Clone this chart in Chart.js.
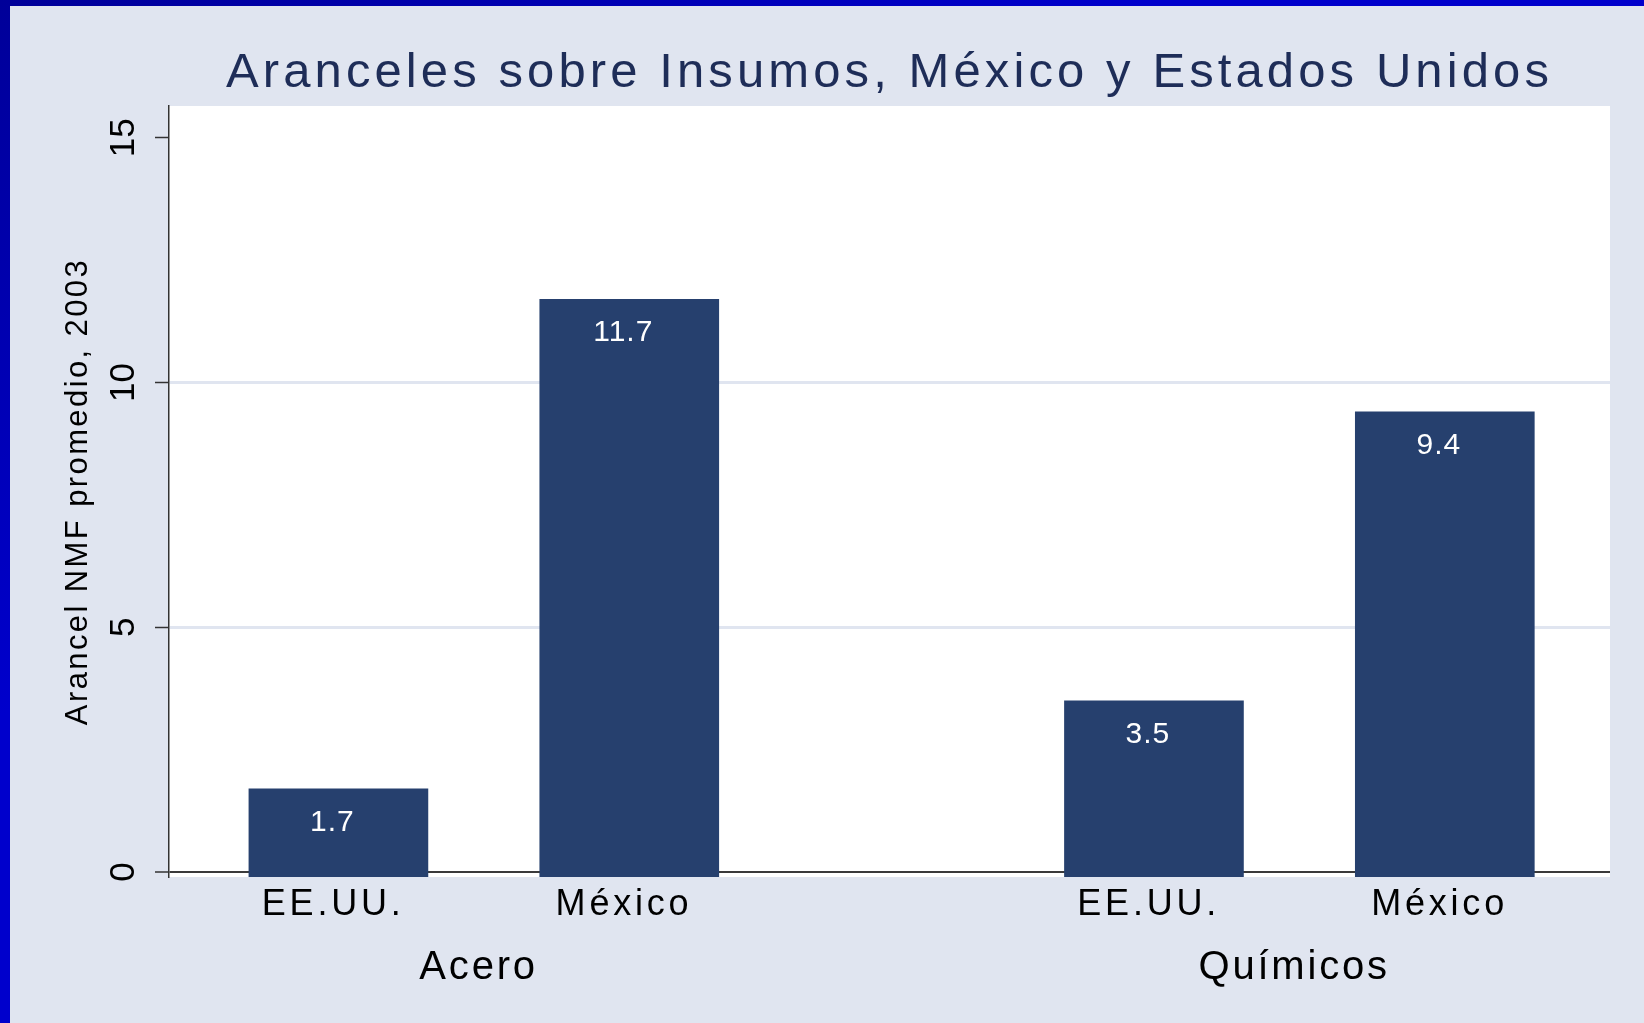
<!DOCTYPE html>
<html>
<head>
<meta charset="utf-8">
<script src="https://cdn.jsdelivr.net/npm/chart.js@4/dist/chart.umd.min.js"></script>
<style>
  html, body { margin: 0; padding: 0; }
  body {
    width: 1644px; height: 1023px; overflow: hidden; position: relative;
    background: linear-gradient(to bottom right, #000099 0%, #0000cc 35%);
  }
  #chart { position: absolute; left: 10px; top: 6px; background: #e0e5f0; }
</style>
</head>
<body>
<canvas id="chart" width="1634" height="1017"></canvas>
<script>
// ================= Data =================
const groups = ['Acero', 'Químicos'];
const countries = ['EE.UU.', 'México'];
const acero = [1.7, 11.7];
const quimicos = [3.5, 9.4];
const yTicks = [0, 5, 10, 15];
const titleText = 'Aranceles sobre Insumos, México y Estados Unidos';
const yTitle = 'Arancel NMF promedio, 2003';

// ================= Layout helpers =================
const FONT = '"Liberation Sans", Arial, sans-serif';
const GROUP_STEP = 2.804;   // distance between groups, in bar spacings
const X_MIN = -0.5825;
const X_MAX = GROUP_STEP + 1 + 0.568;
const Y_MIN = -0.1;
const Y_MAX = 15.65;
const LABEL_NUDGE = -0.018; // stata puts the category text a bit left of centre

const values = [acero, quimicos];
const barPos = (g, m) => g * GROUP_STEP + m;

const points = [];
const barTicks = [];
values.forEach((vals, g) => {
    vals.forEach((v, m) => {
        points.push({ x: barPos(g, m), y: v });
        barTicks.push({ value: barPos(g, m) + LABEL_NUDGE, label: countries[m] });
    });
});
const groupTicks = groups.map((name, g) => ({ value: barPos(g, 0.5) + LABEL_NUDGE, label: name }));

// Stata style spaced-out letters, keyed by font size
const spacing = { '49': '4.1px', '36': '3.8px', '40': '2.8px', '35': '0px', '31': '2.4px', '30': '1px' };
const canvas = document.getElementById('chart');
const ctx = canvas.getContext('2d');
const fontProp = Object.getOwnPropertyDescriptor(CanvasRenderingContext2D.prototype, 'font');
Object.defineProperty(ctx, 'font', {
    get() { return fontProp.get.call(this); },
    set(v) {
        fontProp.set.call(this, v);
        const m = /(\d+(?:\.\d+)?)px/.exec(v);
        this.letterSpacing = (m && spacing[m[1]]) || '0px';
    }
});

// white plot region
const plotBackground = {
    id: 'plotBackground',
    beforeDraw(chart) {
        const a = chart.chartArea;
        chart.ctx.save();
        chart.ctx.fillStyle = '#ffffff';
        chart.ctx.fillRect(a.left, a.top, a.right - a.left, a.bottom - a.top);
        chart.ctx.restore();
    }
};

// value labels inside the bars
const barLabels = {
    id: 'barLabels',
    afterDatasetsDraw(chart) {
        const c = chart.ctx;
        const meta = chart.getDatasetMeta(0);
        c.save();
        c.font = '30px ' + FONT;
        c.fillStyle = '#ffffff';
        c.textAlign = 'center';
        c.textBaseline = 'middle';
        meta.data.forEach((bar, i) => {
            c.fillText(points[i].y.toFixed(1), bar.x - 6, bar.y + 33.5);
        });
        c.restore();
    }
};

new Chart(ctx, {
    type: 'bar',
    data: {
        datasets: [{
            data: points,
            backgroundColor: '#26406e',
            borderWidth: 0,
            barThickness: 179,
            base: Y_MIN
        }]
    },
    options: {
        responsive: false,
        animation: false,
        devicePixelRatio: 1,
        layout: { padding: { top: 0, left: 0, right: 34, bottom: 33 } },
        plugins: {
            legend: { display: false },
            tooltip: { enabled: false },
            title: {
                display: true,
                text: titleText,
                color: '#1e2d58',
                fullSize: false,
                font: { family: FONT, size: 49, weight: 'normal' },
                padding: { top: 38.4, bottom: 2.8 }
            }
        },
        scales: {
            x: {
                type: 'linear',
                position: 'bottom',
                weight: 0,
                min: X_MIN,
                max: X_MAX,
                offset: false,
                grid: { display: false, drawTicks: false, offset: false },
                border: { display: false },
                afterBuildTicks: s => { s.ticks = barTicks.map(t => ({ value: t.value })); },
                afterFit: s => { s.height = 49.6; },
                ticks: {
                    autoSkip: false,
                    maxRotation: 0,
                    padding: 6.4,
                    color: '#000000',
                    font: { family: FONT, size: 36 },
                    callback: (v, i) => barTicks[i].label
                }
            },
            x2: {
                type: 'linear',
                position: 'bottom',
                weight: 1,
                min: X_MIN,
                max: X_MAX,
                offset: false,
                grid: { display: false, drawTicks: false, offset: false },
                border: { display: false },
                afterBuildTicks: s => { s.ticks = groupTicks.map(t => ({ value: t.value })); },
                afterFit: s => { s.height = 63.4; },
                ticks: {
                    autoSkip: false,
                    maxRotation: 0,
                    padding: 17.4,
                    color: '#000000',
                    font: { family: FONT, size: 40 },
                    callback: (v, i) => groupTicks[i].label
                }
            },
            y: {
                min: Y_MIN,
                max: Y_MAX,
                beginAtZero: false,
                afterBuildTicks: s => { s.ticks = yTicks.map(v => ({ value: v })); },
                afterFit: s => { s.width = 159; },
                border: { display: true, color: '#333333', width: 1.5 },
                grid: {
                    color: c => c.tick.value === 0 ? '#3a3a3a' : (c.tick.value === 15 ? 'rgba(0,0,0,0)' : '#e0e5f0'),
                    lineWidth: c => c.tick.value === 0 ? 2 : 3,
                    tickColor: '#333333',
                    tickWidth: 1.5,
                    tickLength: 14
                },
                ticks: {
                    minRotation: 90,
                    maxRotation: 90,
                    crossAlign: 'center',
                    padding: 11.5,
                    color: '#000000',
                    font: { family: FONT, size: 35 }
                },
                title: {
                    display: true,
                    text: yTitle,
                    color: '#000000',
                    font: { family: FONT, size: 31 },
                    padding: { top: 49.5, bottom: 0 }
                }
            }
        }
    },
    plugins: [plotBackground, barLabels]
});
</script>
</body>
</html>
